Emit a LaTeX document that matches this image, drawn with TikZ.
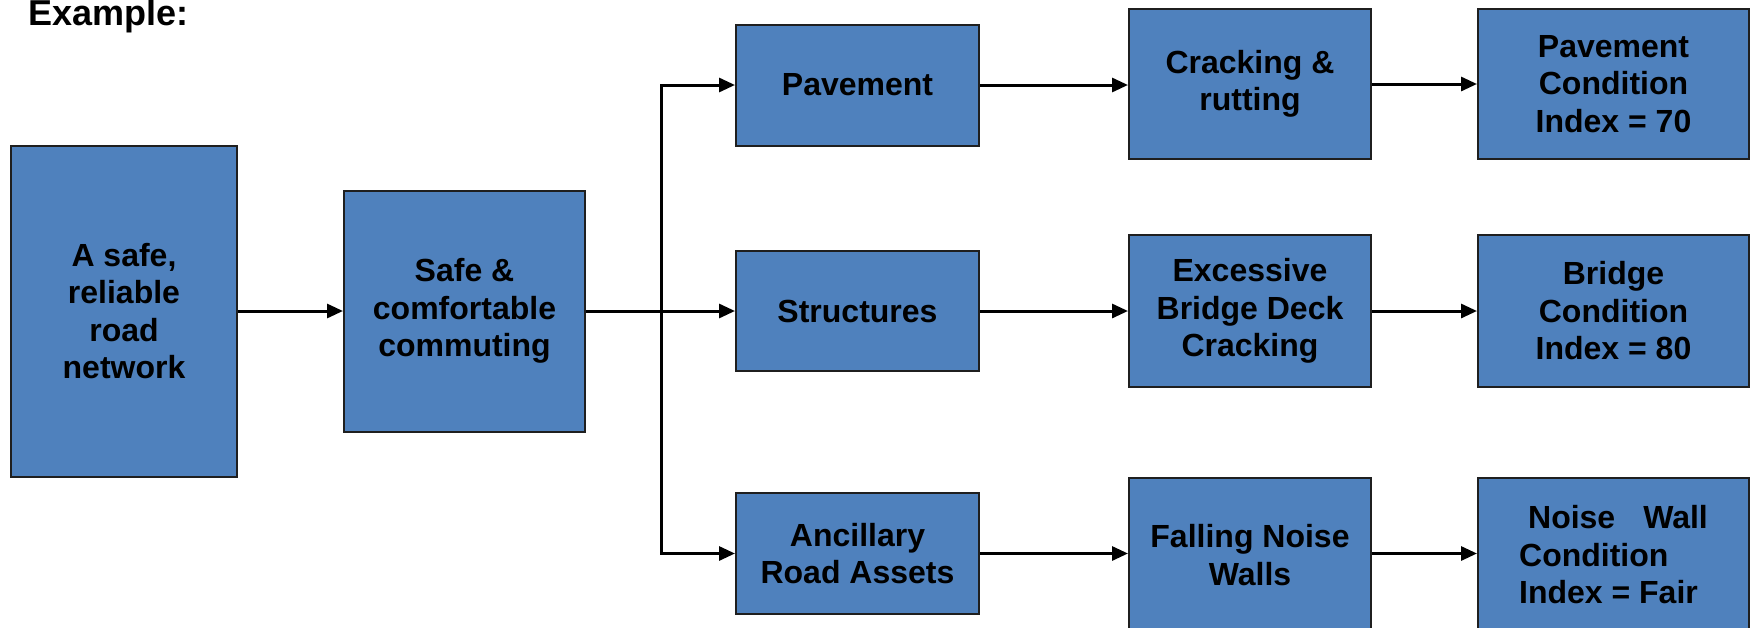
\documentclass[tikz,border=0pt]{standalone}
\usepackage{fontspec}
\setmainfont{Liberation Sans}
\usetikzlibrary{arrows.meta}
\definecolor{boxblue}{HTML}{4F81BD}
\definecolor{boxedge}{HTML}{1F1F1F}
\begin{document}
\begin{tikzpicture}[x=0.5pt,y=-0.5pt,
  box/.style={draw=boxedge, line width=1pt, fill=boxblue, align=center,
    font=\fontsize{16}{18.75}\selectfont\bfseries, inner sep=0pt, text=black},
  conn/.style={line width=1.5pt, -{Triangle[length=8pt,width=7pt]}}
]
\useasboundingbox (0,0) rectangle (1756,627);
\node[font=\fontsize{18}{21}\selectfont\bfseries, anchor=base west, inner sep=0pt] (ex) at (28,25) {Example:};

\node[box, minimum width=113pt, minimum height=165.5pt] (A) at (124,311) {A safe,\\reliable\\road\\network};
\node[box, minimum width=120.5pt, minimum height=120.5pt] (B) at (464.5,311) {Safe \&\\comfortable\\commuting};

\node[box, minimum width=121.5pt, minimum height=60.5pt] (Pav) at (857.5,85) {Pavement};
\node[box, minimum width=121.5pt, minimum height=60pt] (Str) at (857.5,311) {Structures};
\node[box, minimum width=121.5pt, minimum height=60.5pt] (Anc) at (857.5,553.5) {Ancillary\\Road Assets};

\node[box, minimum width=121pt, minimum height=75pt] (Crk) at (1250,84) {Cracking \&\\rutting};
\node[box, minimum width=121pt, minimum height=76pt] (Exc) at (1250,311) {Excessive\\Bridge Deck\\Cracking};
\node[box, minimum width=121pt, minimum height=77pt] (Fal) at (1250,555) {Falling Noise\\Walls};

\node[box, minimum width=135.5pt, minimum height=75pt] (PCI) at (1613.5,84) {Pavement\\Condition\\Index = 70};
\node[box, minimum width=135.5pt, minimum height=76pt] (BCI) at (1613.5,311) {Bridge\\Condition\\Index = 80};
\node[box, minimum width=135.5pt, minimum height=77pt, align=left] (NW) at (1613.5,555) {\hspace*{4.5pt}Noise\hspace{14pt}Wall\\Condition\\Index = Fair};

\coordinate (br) at (661,311);
\draw[conn] (A.east) -- (B.west);
\draw[conn] (B.east) -- (Str.west);
\draw[conn] (br) |- (Pav.west);
\draw[conn] (br) |- (Anc.west);

\draw[conn] (Pav.east) -- (Pav.east -| Crk.west);
\draw[conn] (Crk.east) -- (PCI.west);
\draw[conn] (Str.east) -- (Exc.west);
\draw[conn] (Exc.east) -- (BCI.west);
\draw[conn] (Anc.east) -- (Anc.east -| Fal.west);
\draw[conn] (Fal.east |- Anc.east) -- (Anc.east -| NW.west);
\end{tikzpicture}
\end{document}
